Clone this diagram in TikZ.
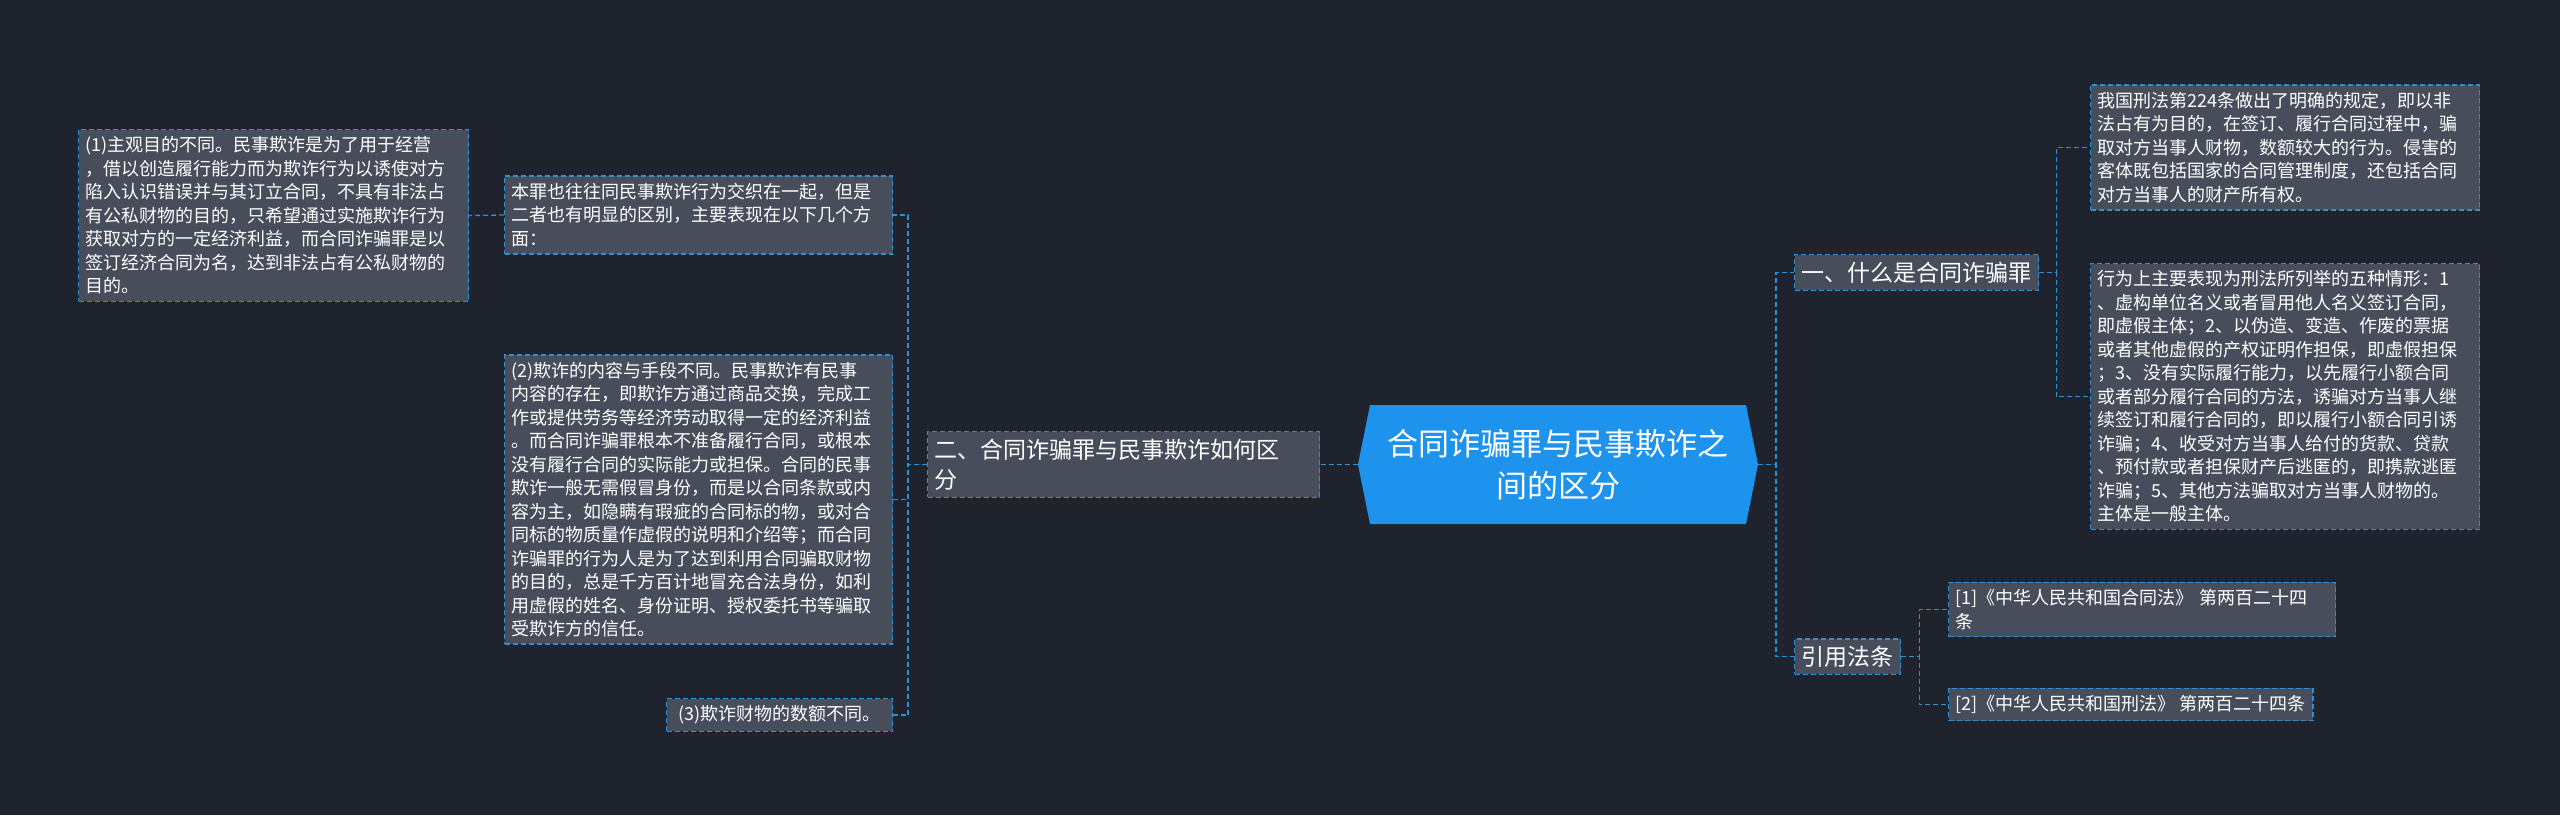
\documentclass[tikz,border=0pt]{standalone}
\usepackage{fontspec}
\setmainfont{Noto Sans CJK SC}
\definecolor{bgc}{HTML}{1F232D}
\definecolor{boxc}{HTML}{474D5B}
\definecolor{edgec}{HTML}{2F8FD5}
\definecolor{rootc}{HTML}{1D93EE}
\begin{document}
\begin{tikzpicture}[x=1pt,y=-1pt,
  leaf/.style={draw=edgec,fill=boxc,dashed,line width=1.3pt,dash pattern=on 5pt off 3pt,text=white,align=left,inner xsep=7pt,inner ysep=7pt,font=\fontsize{18}{23.5}\selectfont,anchor=west},
  mid/.style={leaf,font=\fontsize{23}{30}\selectfont},
  conn/.style={draw=edgec,line width=1.3pt,dash pattern=on 5pt off 3pt}]
\fill[bgc] (0,0) rectangle (2560,815);
\useasboundingbox (0,0) rectangle (2560,815);
% root
\node[text=white,align=center,font=\fontsize{31}{42}\selectfont,minimum width=400pt,minimum height=119pt,inner sep=0pt] (root) at (1558,464.5) {};
\fill[rootc] (1358,464.5) -- (1370,405) -- (1746,405) -- (1758,464.5) -- (1746,524) -- (1370,524) -- cycle;
\node[text=white,align=center,font=\fontsize{31}{42}\selectfont] at (1558,464.5) {合同诈骗罪与民事欺诈之\\间的区分};
% left
\node[mid,text width=378pt] (two) at (927,464.5) {二、合同诈骗罪与民事欺诈如何区\\分};
\node[leaf,text width=374pt] (ben) at (504,215) {本罪也往往同民事欺诈行为交织在一起，但是\\二者也有明显的区别，主要表现在以下几个方\\面：};
\node[leaf,text width=376pt] (p1) at (78,215.5) {(1)主观目的不同。民事欺诈是为了用于经营\\，借以创造履行能力而为欺诈行为以诱使对方\\陷入认识错误并与其订立合同，不具有非法占\\有公私财物的目的，只希望通过实施欺诈行为\\获取对方的一定经济利益，而合同诈骗罪是以\\签订经济合同为名，达到非法占有公私财物的\\目的。};
\node[leaf,text width=374pt] (p2) at (504,499.5) {(2)欺诈的内容与手段不同。民事欺诈有民事\\内容的存在，即欺诈方通过商品交换，完成工\\作或提供劳务等经济劳动取得一定的经济利益\\。而合同诈骗罪根本不准备履行合同，或根本\\没有履行合同的实际能力或担保。合同的民事\\欺诈一般无需假冒身份，而是以合同条款或内\\容为主，如隐瞒有瑕疵的合同标的物，或对合\\同标的物质量作虚假的说明和介绍等；而合同\\诈骗罪的行为人是为了达到利用合同骗取财物\\的目的，总是千方百计地冒充合法身份，如利\\用虚假的姓名、身份证明、授权委托书等骗取\\受欺诈方的信任。};
\node[leaf,inner xsep=12pt] (p3) at (666,715) {(3)欺诈财物的数额不同。};
% right
\node[mid] (one) at (1794,272.5) {一、什么是合同诈骗罪};
\node[leaf,text width=375pt] (t1) at (2090,147.5) {我国刑法第224条做出了明确的规定，即以非\\法占有为目的，在签订、履行合同过程中，骗\\取对方当事人财物，数额较大的行为。侵害的\\客体既包括国家的合同管理制度，还包括合同\\对方当事人的财产所有权。};
\node[leaf,text width=375pt] (t2) at (2090,396.5) {行为上主要表现为刑法所列举的五种情形：1\\、虚构单位名义或者冒用他人名义签订合同，\\即虚假主体；2、以伪造、变造、作废的票据\\或者其他虚假的产权证明作担保，即虚假担保\\；3、没有实际履行能力，以先履行小额合同\\或者部分履行合同的方法，诱骗对方当事人继\\续签订和履行合同的，即以履行小额合同引诱\\诈骗；4、收受对方当事人给付的货款、贷款\\、预付款或者担保财产后逃匿的，即携款逃匿\\诈骗；5、其他方法骗取对方当事人财物的。\\主体是一般主体。};
\node[mid] (cite) at (1794,656.5) {引用法条};
\node[leaf,text width=373pt] (c1) at (1948,609.5) {[1]《中华人民共和国合同法》 第两百二十四\\条};
\node[leaf] (c2) at (1948,704.5) {[2]《中华人民共和国刑法》 第两百二十四条};
% connectors
\draw[conn] (1358,464.5) -- (two.east);
\draw[conn] (two.west) -- ++(-19,0) |- (ben.east);
\draw[conn] (two.west) -- ++(-19,0) |- (p2.east);
\draw[conn] (two.west) -- ++(-19,0) |- (p3.east);
\draw[conn] (ben.west) -- (p1.east);
\draw[conn] (1758,464.5) -- ++(18,0) |- (one.west);
\draw[conn] (1758,464.5) -- ++(18,0) |- (cite.west);
\draw[conn] (one.east) -- ++(17,0) |- (t1.west);
\draw[conn] (one.east) -- ++(17,0) |- (t2.west);
\draw[conn] (cite.east) -- ++(18,0) |- (c1.west);
\draw[conn] (cite.east) -- ++(18,0) |- (c2.west);
\end{tikzpicture}
\end{document}
